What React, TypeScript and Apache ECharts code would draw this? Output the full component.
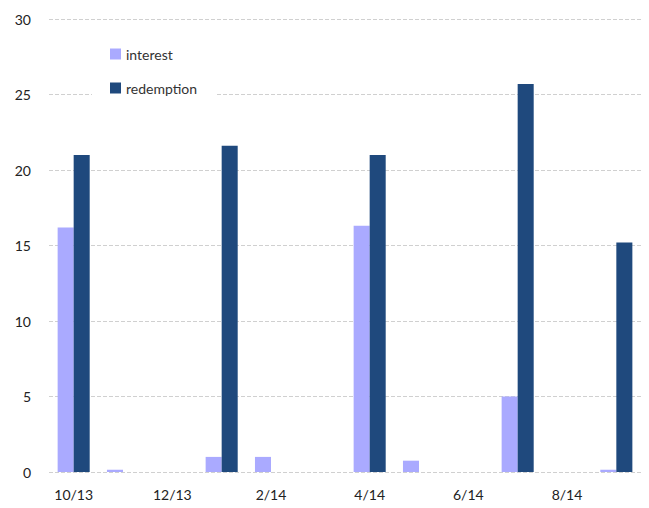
import React, { useEffect, useRef } from "react";
import * as echarts from "echarts";

const categories = ["10/13", "11/13", "12/13", "1/14", "2/14", "3/14", "4/14", "5/14", "6/14", "7/14", "8/14", "9/14"];
const interest = [16.2, 0.15, 0, 1.0, 1.0, 0, 16.3, 0.75, 0, 5.0, 0, 0.15];
const redemption = [21.0, 0, 0, 21.6, 0, 0, 21.0, 0, 0, 25.7, 0, 15.2];
const seriesNames = ["interest", "redemption"];

export default function App() {
  const ref = useRef<HTMLDivElement>(null);
  useEffect(() => {
    if (!ref.current) return;
    const chart = echarts.init(ref.current, null, { renderer: "svg" });
    const font = "Lato, 'Open Sans', sans-serif";
    chart.setOption({
      animation: false,
      backgroundColor: "#ffffff",
      grid: { left: 49, right: 8, top: 19, bottom: 36, containLabel: false },
      legend: {
        orient: "vertical",
        left: 92,
        top: 39,
        padding: [8, 18, 8, 18],
        backgroundColor: "#ffffff",
        itemWidth: 11,
        itemHeight: 11,
        itemGap: 20,
        icon: "rect",
        textStyle: { fontFamily: font, fontSize: 14, color: "#333" },
        data: seriesNames,
      },
      xAxis: {
        type: "category",
        data: categories,
        axisLine: { show: false },
        axisTick: { show: false },
        axisLabel: { interval: 1, fontFamily: font, fontSize: 14, color: "#222", margin: 15 },
      },
      yAxis: {
        type: "value",
        min: 0,
        max: 30,
        interval: 5,
        axisLine: { show: false },
        axisTick: { show: false },
        axisLabel: { fontFamily: font, fontSize: 14, color: "#222", margin: 18 },
        splitLine: { lineStyle: { type: [4, 2], color: "#d0d0d0", width: 1 } },
      },
      series: [
        {
          name: seriesNames[0],
          type: "bar",
          data: interest,
          barGap: "0%",
          barCategoryGap: "35%",
          itemStyle: { color: "#AAAAFF" },
        },
        {
          name: seriesNames[1],
          type: "bar",
          data: redemption,
          barGap: "0%",
          barCategoryGap: "35%",
          itemStyle: { color: "#1F497D" },
        },
      ],
    });
    return () => chart.dispose();
  }, []);
  return (
    <div
      ref={ref}
      style={{ position: "absolute", left: 0, top: 0, width: 649, height: 508 }}
    />
  );
}
